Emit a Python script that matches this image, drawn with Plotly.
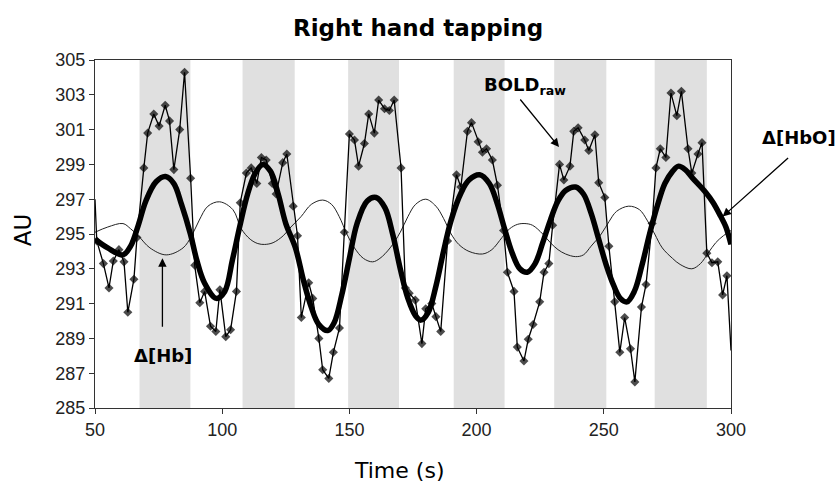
import plotly.graph_objects as go

# ---------------- data ----------------
block_start = [67.5, 108.0, 149.5, 191.0, 230.5, 270.0]
block_end = [87.5, 128.5, 169.5, 211.0, 251.0, 290.5]

bold_t = [50.0, 50.7, 53.3, 55.5, 57.2, 59.4, 61.4, 62.9, 65.3, 66.5,
          69.2, 70.7, 73.1, 75.2, 77.6, 79.3, 81.0, 83.3, 85.2, 87.6,
          89.2, 91.2, 93.1, 95.4, 97.5, 99.1, 101.4, 103.3, 105.6, 107.1,
          109.5, 111.4, 113.6, 115.4, 117.3, 119.7, 121.2, 123.8, 125.4, 127.9,
          129.6, 131.1, 134.0, 135.6, 138.0, 139.5, 141.9, 143.7, 146.1, 148.0,
          150.0, 152.0, 153.6, 155.9, 157.6, 159.8, 161.5, 163.8, 165.7, 167.6,
          170.3, 172.0, 173.5, 175.9, 178.5, 180.0, 182.4, 184.0, 185.9, 188.6,
          192.1, 193.8, 196.4, 198.0, 200.6, 202.3, 203.9, 206.2, 208.2, 210.6,
          212.1, 214.7, 216.0, 218.6, 220.3, 222.2, 224.8, 226.5, 228.4, 229.9,
          232.6, 234.3, 236.7, 238.2, 239.9, 242.5, 244.1, 246.5, 248.0, 250.4,
          252.0, 254.3, 256.3, 258.2, 260.5, 262.2, 264.8, 266.6, 269.0, 270.5,
          272.2, 274.4, 276.4, 278.7, 280.5, 283.1, 284.6, 287.0, 288.6, 290.5,
          292.5, 294.8, 296.7, 298.4, 300.0]
bold_v = [297.0, 294.6, 293.3, 291.9, 293.45, 294.1, 293.4, 290.5, 292.4, 294.8,
          298.8, 300.8, 301.9, 301.2, 302.4, 301.5, 298.7, 301.0, 304.3, 298.2,
          293.2, 291.05, 291.7, 289.7, 289.4, 291.8, 289.1, 289.5, 291.7, 296.8,
          298.5, 298.8, 297.9, 299.4, 299.25, 297.9, 297.3, 299.1, 299.6, 296.6,
          294.9, 290.2, 292.2, 291.3, 289.0, 287.2, 286.7, 288.2, 289.6, 295.1,
          300.75, 300.4, 298.9, 300.2, 301.9, 300.8, 302.7, 302.2, 302.1, 302.7,
          298.8, 291.9, 291.6, 291.2, 288.7, 290.7, 291.0, 290.25, 289.4, 294.6,
          298.4, 297.7, 300.9, 301.4, 300.3, 299.7, 299.9, 299.25, 297.8, 295.2,
          292.8, 291.7, 288.5, 287.7, 288.95, 289.8, 291.1, 292.8, 293.3, 295.5,
          299.0, 298.1, 298.9, 300.9, 301.1, 300.4, 299.8, 300.7, 297.95, 297.1,
          294.3, 291.1, 288.2, 290.2, 288.4, 286.5, 290.8, 292.1, 295.6, 298.8,
          299.9, 299.4, 303.1, 301.8, 303.2, 299.9, 298.5, 299.6, 300.25, 293.9,
          293.35, 293.4, 291.5, 292.6, 288.3]

hbo_t = [50, 55, 61, 64, 67, 70, 74, 77.7, 81, 84, 87.5, 90, 93, 97.7, 101, 104,
         107, 110, 113, 116, 119, 122, 125, 128.8, 132, 135, 138, 141.5, 144, 147,
         150, 153, 157, 160.5, 164, 167, 170, 173, 176, 178.1, 181, 184, 187, 190,
         194, 197, 201.2, 205, 208, 211, 214, 217, 219.9, 223, 226, 229, 232, 235,
         238.9, 242, 245, 248, 251, 254, 256.5, 259.1, 262, 265, 268, 271, 274, 277,
         279.4, 282, 285, 290, 293, 296, 298, 300]
hbo_v = [294.7, 294.2, 293.8, 294.3, 295.5, 296.9, 298.0, 298.3, 297.9, 296.7,
         295.0, 293.5, 292.2, 291.3, 291.7, 293.5, 295.5, 297.3, 298.5, 299.0,
         298.6, 297.3, 295.6, 294.2, 292.3, 290.8, 289.8, 289.45, 289.9, 291.5,
         293.6, 295.6, 296.9, 297.1, 296.5, 295.0, 293.0, 291.3, 290.3, 290.05,
         290.5, 292.0, 294.0, 295.8, 297.4, 298.1, 298.4, 297.9, 296.8, 295.3,
         293.9, 293.0, 292.8, 293.3, 294.5, 295.8, 296.9, 297.5, 297.7, 297.3,
         296.2, 294.7, 293.2, 292.0, 291.3, 291.1, 291.7, 293.2, 295.0, 296.6,
         297.9, 298.6, 298.9, 298.7, 298.2, 297.4, 296.8, 296.0, 295.4, 294.4]

hb_t = [50, 55, 61, 64, 67, 71.6, 78, 84.6, 88, 91, 94.4, 99, 104.2, 107.5, 111,
        114, 116.7, 120, 124, 127, 131, 135, 139.5, 143, 146, 149, 152, 155.5,
        159.1, 162, 166, 170, 173, 176, 180, 184, 187, 190, 193, 197, 202.3, 206,
        210, 213, 216, 219, 222, 226, 229, 232, 235, 238.9, 242, 245, 249, 252,
        255, 259.8, 264, 267, 270, 273, 277, 280, 284.6, 288, 291, 294, 297, 300]
hb_v = [295.1, 295.4, 295.6, 295.3, 294.9, 294.2, 293.8, 294.2, 294.9, 295.8,
        296.6, 296.85, 296.4, 295.3, 294.7, 294.45, 294.4, 294.5, 294.9, 295.4,
        296.0, 296.7, 296.95, 296.7, 296.0, 295.0, 294.2, 293.6, 293.4, 293.6,
        294.2, 295.1, 296.0, 296.7, 297.0, 296.6, 295.9, 295.0, 294.4, 294.0,
        293.85, 294.1, 294.8, 295.3, 295.55, 295.6, 295.5, 295.0, 294.5, 294.1,
        293.85, 293.7, 293.8, 294.3, 295.0, 295.7, 296.3, 296.6, 296.4, 295.8,
        295.0, 294.2, 293.6, 293.25, 293.0, 293.3, 293.9, 294.5, 294.9, 295.2]

x_ticks = [50, 100, 150, 200, 250, 300]
y_ticks = [285, 287, 289, 291, 293, 295, 297, 299, 301, 303, 305]

# ---------------- figure ----------------
fig = go.Figure()

fig.add_trace(go.Scatter(x=hb_t, y=hb_v, mode="lines",
                         line=dict(color="#222222", width=1, shape="spline"),
                         showlegend=False, hoverinfo="skip"))
fig.add_trace(go.Scatter(x=hbo_t, y=hbo_v, mode="lines",
                         line=dict(color="#000000", width=5.5, shape="spline"),
                         showlegend=False, hoverinfo="skip"))
marker_sizes = [0] + [7] * (len(bold_t) - 2) + [0]
fig.add_trace(go.Scatter(x=bold_t, y=bold_v, mode="lines+markers",
                         line=dict(color="#000000", width=1.3),
                         marker=dict(symbol="diamond", size=marker_sizes, color="#000000",
                                     line=dict(width=0)),
                         cliponaxis=True,
                         showlegend=False, hoverinfo="skip"))

for s, e in zip(block_start, block_end):
    fig.add_shape(type="rect", xref="x", yref="paper", x0=s, x1=e, y0=0, y1=1,
                  fillcolor="#e0e0e0", line=dict(width=0), layer="below")

axis_common = dict(showline=True, linecolor="#333333", linewidth=1.2, mirror=True,
                   ticks="outside", ticklen=5, tickcolor="#333333", showgrid=False,
                   zeroline=False,
                   tickfont=dict(family="Liberation Sans, Arial", size=18, color="#222222"))

fig.update_xaxes(range=[50, 300], tickvals=x_ticks, ticktext=[str(v) for v in x_ticks],
                 **axis_common)
fig.update_yaxes(range=[285, 305], tickvals=y_ticks, ticktext=[str(v) for v in y_ticks],
                 **axis_common)

ann_font_b = dict(family="DejaVu Sans", size=18, color="#000000")
arrow_style = dict(showarrow=True, arrowhead=2, arrowsize=1.3, arrowwidth=1.3,
                   arrowcolor="#000000", standoff=0, xref="x", yref="y")
annotations = [
    dict(text="<b>Right hand tapping</b>", xref="paper", yref="paper", x=0.508, y=1.092,
         xanchor="center", yanchor="middle", showarrow=False,
         font=dict(family="DejaVu Sans", size=23, color="#000000")),
    dict(text="Time (s)", xref="paper", yref="paper", x=0.478, y=-0.181,
         xanchor="center", yanchor="middle", showarrow=False,
         font=dict(family="DejaVu Sans", size=22, color="#000000")),
    dict(text="AU", xref="paper", yref="paper", x=-0.113, y=0.511, textangle=-90,
         xanchor="center", yanchor="middle", showarrow=False,
         font=dict(family="DejaVu Sans", size=23, color="#000000")),
    dict(text="<b>BOLD<sub>raw</sub></b>", xref="paper", yref="paper", x=0.6085, y=0.925,
         xanchor="left", yanchor="middle", showarrow=False, font=ann_font_b),
    dict(text="<b>Δ[HbO]</b>", xref="paper", yref="paper", x=1.107, y=0.776,
         xanchor="center", yanchor="middle", showarrow=False, font=ann_font_b),
    dict(text="<b>Δ[Hb]</b>", xref="paper", yref="paper", x=0.107, y=0.152,
         xanchor="center", yanchor="middle", showarrow=False, font=ann_font_b),
    # arrows
    dict(text="", x=232.4, y=300.0, ax=-40, ay=-49, **arrow_style),
    dict(text="", x=296.7, y=296.0, ax=67, ay=-60, **arrow_style),
    dict(text="", x=76.5, y=293.6, ax=0, ay=70, **arrow_style),
]

fig.update_layout(width=839, height=486, autosize=False,
                  margin=dict(l=95, r=108, t=60, b=78),
                  paper_bgcolor="white", plot_bgcolor="white",
                  annotations=annotations, showlegend=False)

fig.write_html("out.html", config={"displayModeBar": False},
               post_script="document.body.style.margin='0';document.body.style.overflow='hidden';")
